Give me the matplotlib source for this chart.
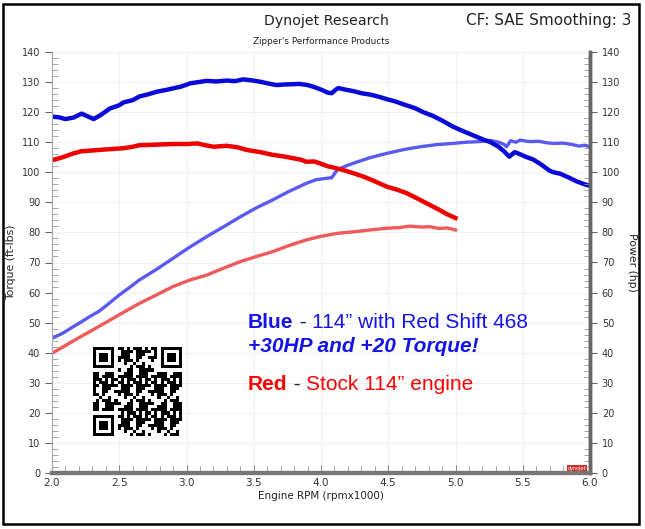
import numpy as np
import matplotlib
matplotlib.use("Agg")
import matplotlib.pyplot as plt
from matplotlib.patches import Rectangle
from matplotlib.ticker import MultipleLocator

# blue run (114" with Red Shift 468)
blue_tq_rpm = [2.0, 2.05, 2.1, 2.16, 2.22, 2.27, 2.31, 2.36, 2.43, 2.5, 2.53, 2.6, 2.65, 2.72,
               2.78, 2.85, 2.9, 2.96, 3.03, 3.09, 3.15, 3.22, 3.3, 3.36, 3.42, 3.48, 3.55, 3.61,
               3.67, 3.73, 3.8, 3.84, 3.9, 3.94, 4.0, 4.05, 4.08, 4.11, 4.13, 4.18, 4.24, 4.3,
               4.37, 4.44, 4.49, 4.55, 4.62, 4.7, 4.76, 4.83, 4.9, 4.98, 5.05, 5.12, 5.2, 5.26,
               5.32, 5.36, 5.4, 5.44, 5.48, 5.52, 5.58, 5.64, 5.7, 5.73, 5.78, 5.84, 5.9, 5.96, 6.0]
blue_tq = [118.5, 118.3, 117.7, 118.2, 119.5, 118.5, 117.7, 119.0, 121.2, 122.3, 123.2, 124.0,
           125.2, 126.0, 126.8, 127.4, 127.9, 128.5, 129.6, 130.0, 130.4, 130.2, 130.5, 130.3,
           130.9, 130.6, 130.1, 129.5, 129.0, 129.2, 129.3, 129.4, 129.0, 128.5, 127.5, 126.5,
           126.3, 127.5, 128.0, 127.5, 127.0, 126.3, 125.8, 125.0, 124.3, 123.6, 122.5, 121.3,
           120.0, 118.8, 117.2, 115.2, 113.8, 112.5, 111.0, 110.0, 108.5, 107.0, 105.2, 106.7,
           106.0, 105.2, 104.2, 102.5, 100.5, 100.0, 99.5, 98.3, 97.0, 96.0, 95.5]

blue_hp_rpm = [2.0, 2.08, 2.16, 2.22, 2.28, 2.35, 2.41, 2.5, 2.58, 2.65, 2.78, 2.9, 3.02, 3.15,
               3.28, 3.4, 3.52, 3.64, 3.76, 3.89, 3.96, 4.04, 4.08, 4.12, 4.18, 4.24, 4.36, 4.49,
               4.62, 4.74, 4.86, 4.98, 5.08, 5.18, 5.26, 5.32, 5.36, 5.38, 5.41, 5.45, 5.48, 5.55,
               5.62, 5.68, 5.73, 5.8, 5.86, 5.92, 5.96, 6.0]
blue_hp = [44.8, 46.5, 48.7, 50.3, 52.0, 53.8, 55.9, 59.2, 61.8, 64.2, 67.8, 71.4, 75.0, 78.6,
           82.0, 85.2, 88.2, 90.8, 93.6, 96.3, 97.5, 98.0, 98.2, 100.8, 102.0, 103.0, 104.8,
           106.3, 107.6, 108.5, 109.2, 109.6, 110.0, 110.2, 110.6, 110.0, 109.3, 108.5, 110.5,
           110.0, 110.7, 110.2, 110.3, 109.8, 109.6, 109.7, 109.3, 108.7, 109.0, 108.5]

# red run (stock 114" engine)
red_tq_rpm = [2.0, 2.08, 2.16, 2.22, 2.28, 2.4, 2.53, 2.6, 2.65, 2.78, 2.9, 3.0, 3.08, 3.14,
              3.2, 3.3, 3.38, 3.45, 3.55, 3.64, 3.72, 3.79, 3.85, 3.89, 3.95, 3.99, 4.05, 4.1,
              4.16, 4.24, 4.32, 4.4, 4.49, 4.56, 4.64, 4.72, 4.81, 4.88, 4.94, 4.98, 5.0]
red_tq = [104.0, 105.0, 106.3, 107.0, 107.2, 107.6, 108.0, 108.5, 109.0, 109.2, 109.4, 109.4,
          109.6, 109.0, 108.5, 108.8, 108.3, 107.4, 106.7, 105.8, 105.3, 104.7, 104.2, 103.5,
          103.6, 103.0, 102.0, 101.5, 100.8, 99.7, 98.5, 97.0, 95.2, 94.3, 93.0, 91.2, 89.1,
          87.5, 86.0, 85.2, 84.8]

red_hp_rpm = [2.0, 2.1, 2.2, 2.3, 2.41, 2.53, 2.65, 2.78, 2.9, 3.02, 3.15, 3.28, 3.4, 3.52,
              3.64, 3.76, 3.89, 3.99, 4.12, 4.24, 4.36, 4.49, 4.58, 4.66, 4.74, 4.81, 4.88,
              4.94, 5.0]
red_hp = [39.8, 42.4, 45.0, 47.5, 50.3, 53.4, 56.4, 59.3, 62.0, 64.1, 65.8, 68.2, 70.3, 72.0,
          73.6, 75.6, 77.5, 78.6, 79.7, 80.2, 80.8, 81.4, 81.6, 82.1, 81.8, 81.9, 81.3, 81.5, 80.8]

x_ticks = [2.0, 2.5, 3.0, 3.5, 4.0, 4.5, 5.0, 5.5, 6.0]

BLUE = "#1414e6"
RED = "#ff0000"

fig = plt.figure(figsize=(6.45, 5.29), dpi=100)
fig.patch.set_facecolor("white")
ax = fig.add_axes([52 / 645, 1 - 473 / 529, 538 / 645, 421 / 529])
ax2 = ax.twinx()

ax.plot(blue_hp_rpm, blue_hp, color="#5a5af0", lw=2.4, zorder=3)
ax.plot(red_hp_rpm, red_hp, color="#f05a5a", lw=2.4, zorder=3)
ax.plot(blue_tq_rpm, blue_tq, color="#0a0ad8", lw=3.2, zorder=4)
ax.plot(red_tq_rpm, red_tq, color="#ee0000", lw=3.2, zorder=4)

for a in (ax, ax2):
    a.set_xlim(2.0, 6.0)
    a.set_ylim(0, 140)
    a.yaxis.set_major_locator(MultipleLocator(10))
    a.yaxis.set_minor_locator(MultipleLocator(2))
    a.tick_params(axis="y", which="major", length=5, width=0.8, color="#666666",
                  labelsize=7, labelcolor="#333333", direction="out")
    a.tick_params(axis="y", which="minor", length=4, width=0.6, color="#999999",
                  direction="in")

ax.set_xticks(x_ticks)
ax.set_xticklabels([f"{v:.1f}" for v in x_ticks])
ax.xaxis.set_minor_locator(MultipleLocator(0.1))
ax.tick_params(axis="x", which="major", length=6, width=0.8, color="#888888",
               labelsize=7.5, labelcolor="#333333", direction="in")
ax.tick_params(axis="x", which="minor", length=5, width=0.6, color="#999999", direction="in")

ax.grid(True, which="major", color="#eeeeee", lw=0.6, zorder=0)

for a in (ax, ax2):
    a.spines["top"].set_visible(False)
    a.spines["left"].set_color("#aaaaaa")
    a.spines["left"].set_linewidth(0.8)
    a.spines["bottom"].set_color("#777777")
    a.spines["bottom"].set_linewidth(3)
    a.spines["right"].set_color("#666666")
    a.spines["right"].set_linewidth(2.5)

ax.set_xlabel("Engine RPM (rpmx1000)", fontsize=7.5, color="#222222", labelpad=2)
ax.set_ylabel("Torque (ft-lbs)", fontsize=7.8, color="#222222", labelpad=4)
ax2.set_ylabel("Power (hp)", fontsize=7.8, color="#222222", rotation=270, labelpad=12)

# header
fig.text(326 / 645, 1 - 21 / 529, "Dynojet Research", ha="center", va="center",
         fontsize=10.2, color="#222222")
fig.text(321 / 645, 1 - 41 / 529, "Zipper's Performance Products", ha="center",
         va="center", fontsize=6.4, color="#222222")
fig.text(631 / 645, 1 - 21 / 529, "CF: SAE Smoothing: 3", ha="right", va="center",
         fontsize=11, color="#222222")

# annotation, pieces laid out one after another
fam = ["Liberation Sans", "DejaVu Sans"]
renderer = fig.canvas.get_renderer()


def text_run(y_px, pieces, x_px=248):
    x = x_px
    for s, color, weight, style in pieces:
        t = fig.text(x / 645, 1 - y_px / 529, s, fontsize=15, color=color,
                     fontweight=weight, fontstyle=style, family=fam, va="center",
                     ha="left")
        x += t.get_window_extent(renderer).width


text_run(322, [("Blue", BLUE, "bold", "normal"), (" - ", "#222222", "normal", "normal"),
               ("114\u201d with Red Shift 468", BLUE, "normal", "normal")])
text_run(347, [("+30HP and +20 Torque!", BLUE, "bold", "italic")])
text_run(384, [("Red", RED, "bold", "normal"), (" - ", "#222222", "normal", "normal"),
               ("Stock 114\u201d engine", RED, "normal", "normal")])

# dynojet badge
ax.text(0.993, 0.004, "dynojet", transform=ax.transAxes, fontsize=3.5, color="white",
        ha="right", va="bottom",
        bbox=dict(boxstyle="square,pad=0.25", fc="#d42a2a", ec="none"), zorder=6)

# QR-like code
n = 29
qr = np.zeros((n, n))
for i in range(n):
    for j in range(n):
        qr[i, j] = 1 if ((3 * i * i + 5 * j + 7 * i * j + j * j) % 11) < 6 else 0
for (r, c) in [(0, 0), (0, n - 7), (n - 7, 0)]:
    qr[max(r - 1, 0):r + 8, max(c - 1, 0):c + 8] = 0
    qr[r:r + 7, c:c + 7] = 1
    qr[r + 1:r + 6, c + 1:c + 6] = 0
    qr[r + 2:r + 5, c + 2:c + 5] = 1
qr_ax = fig.add_axes([93 / 645, 1 - 436 / 529, 89 / 645, 89 / 529])
qr_ax.imshow(qr, cmap="Greys", interpolation="nearest", vmin=0, vmax=1)
qr_ax.axis("off")

# outer frame
fig.patches.append(Rectangle((2.5 / 645, 5 / 529), 636 / 645, 520 / 529,
                             transform=fig.transFigure, fill=False, ec="black", lw=1.8))

fig.savefig("out.png", dpi=100)
